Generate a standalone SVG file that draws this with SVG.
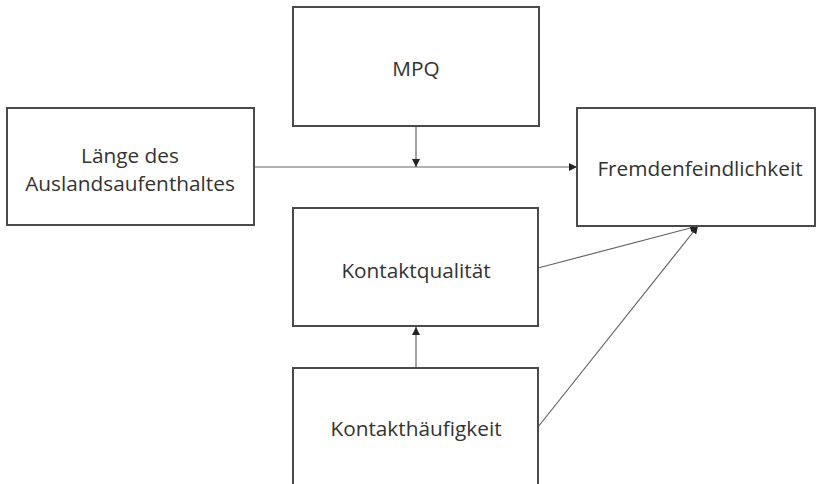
<svg xmlns="http://www.w3.org/2000/svg" width="817" height="484" viewBox="0 0 817 484">
<style>
.box{fill:#fff;stroke:#4a4a4a;stroke-width:2}
.lbl{font-family:"Open Sans","Noto Sans",sans-serif;font-size:20.8px;fill:#333;text-anchor:middle;dominant-baseline:central}
.con{stroke:#666;stroke-width:1.2;fill:none;marker-end:url(#ah)}
</style>
<defs>
<marker id="ah" viewBox="0 0 10 10" refX="10" refY="5" markerWidth="8" markerHeight="8" markerUnits="userSpaceOnUse" orient="auto">
<path d="M0,0 L10,5 L0,10 z" fill="#222"/>
</marker>
</defs>
<rect width="817" height="484" fill="#fff"/>
<g id="connectors">
<line class="con" x1="254" y1="167" x2="577" y2="167"/>
<line class="con" x1="416" y1="126" x2="416" y2="167"/>
<line class="con" x1="416" y1="368" x2="416" y2="327"/>
<line class="con" x1="538" y1="268" x2="698" y2="226"/>
<line class="con" x1="538" y1="427" x2="698" y2="226"/>
</g>
<g id="mpq"><rect class="box" x="293" y="7" width="246" height="119"/><text class="lbl" x="416" y="68">MPQ</text></g>
<g id="laenge"><rect class="box" x="7" y="108" width="247" height="117"/><text class="lbl" x="130" y="155">Länge des</text><text class="lbl" x="130" y="183">Auslandsaufenthaltes</text></g>
<g id="fremd"><rect class="box" x="577" y="108" width="238" height="118"/><text class="lbl" x="700" y="168">Fremdenfeindlichkeit</text></g>
<g id="qual"><rect class="box" x="293" y="208" width="245" height="118"/><text class="lbl" x="416" y="270">Kontaktqualität</text></g>
<g id="haeuf"><rect class="box" x="293" y="368" width="245" height="130"/><text class="lbl" x="416" y="428">Kontakthäufigkeit</text></g>
</svg>
